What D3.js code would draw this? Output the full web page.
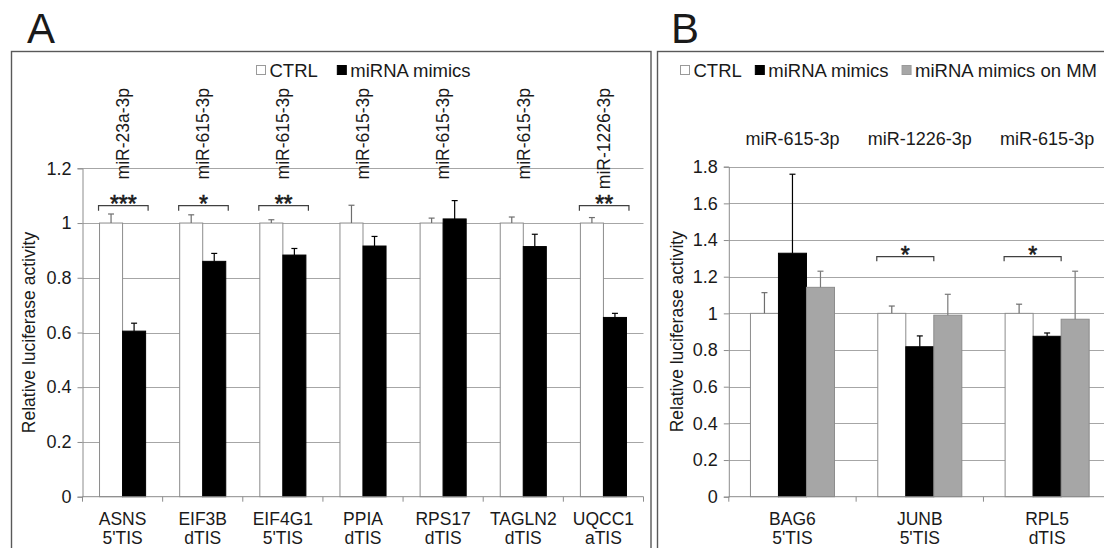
<!DOCTYPE html>
<html>
<head>
<meta charset="utf-8">
<script src="https://cdn.jsdelivr.net/npm/d3@7"></script>
<style>
  html, body { margin: 0; padding: 0; background: #fff; }
  svg { display: block; font-family: "Liberation Sans", Arial, sans-serif; }
</style>
</head>
<body>
<svg id="chart" width="1104" height="548"></svg>
<script>
// ---- Panel A: luciferase reporter, CTRL vs miRNA mimics ----
const genesA = ["ASNS", "EIF3B", "EIF4G1", "PPIA", "RPS17", "TAGLN2", "UQCC1"];
const sitesA = ["5'TIS", "dTIS", "5'TIS", "dTIS", "dTIS", "dTIS", "aTIS"];
const mirnaA = ["miR-23a-3p", "miR-615-3p", "miR-615-3p", "miR-615-3p", "miR-615-3p", "miR-615-3p", "miR-1226-3p"];
const ctrlA = [1, 1, 1, 1, 1, 1, 1];
const ctrlErrA = [0.033, 0.030, 0.012, 0.065, 0.018, 0.022, 0.020];
const mimicA = [0.605, 0.860, 0.883, 0.916, 1.015, 0.914, 0.655];
const mimicErrA = [0.029, 0.029, 0.024, 0.035, 0.067, 0.045, 0.015];
const sigA = ["***", "*", "**", "", "", "", "**"];
const ticksA = [0, 0.2, 0.4, 0.6, 0.8, 1, 1.2];

// ---- Panel B: CTRL, miRNA mimics, miRNA mimics on mutated site ----
const genesB = ["BAG6", "JUNB", "RPL5"];
const sitesB = ["5'TIS", "5'TIS", "dTIS"];
const mirnaB = ["miR-615-3p", "miR-1226-3p", "miR-615-3p"];
const ctrlB = [1, 1, 1];
const ctrlErrB = [0.113, 0.040, 0.050];
const mimicB = [1.328, 0.818, 0.875];
const mimicErrB = [0.431, 0.059, 0.018];
const mmB = [1.142, 0.990, 0.968];
const mmErrB = [0.088, 0.114, 0.262];
const sigB = ["", "*", "*"];
const ticksB = [0, 0.2, 0.4, 0.6, 0.8, 1, 1.2, 1.4, 1.6, 1.8];

const seriesStyle = {
  "CTRL": { fill: "#ffffff", stroke: "#8c8c8c", err: "#6e6e6e" },
  "miRNA mimics": { fill: "#000000", stroke: "#000000", err: "#000000" },
  "miRNA mimics on MM": { fill: "#a6a6a6", stroke: "#8c8c8c", err: "#7a7a7a" }
};

const svg = d3.select("#chart");
const FONT = 17.5;
const TICK_FONT = 18;
const LEGEND_FONT = 18.5;
const STAR_FONT = 23;
const fmt = d => (d === 0 ? "0" : d3.format(".1f")(d).replace(/\.0$/, ""));

function panel(opts) {
  const g = svg.append("g");
  // frame
  g.append("rect")
    .attr("x", opts.frame[0]).attr("y", opts.frame[1])
    .attr("width", opts.frame[2]).attr("height", opts.frame[3])
    .attr("fill", "none").attr("stroke", "#595959").attr("stroke-width", 1.4);
  // panel letter
  g.append("text").attr("x", opts.letterX).attr("y", 43)
    .attr("font-size", 42).attr("fill", "#1a1a1a").text(opts.letter);

  const y = d3.scaleLinear().domain([0, opts.yMax]).range([496.7, opts.yTop]);
  const x0 = d3.scaleBand().domain(opts.genes).range(opts.xRange)
    .paddingInner(opts.pad).paddingOuter(opts.pad / 2);
  const x1 = d3.scaleBand().domain(opts.series.map(s => s.name)).range([0, x0.bandwidth()]);

  // gridlines
  g.append("g").selectAll("line").data(opts.ticks.filter(t => t > 0)).join("line")
    .attr("x1", opts.xRange[0]).attr("x2", opts.gridEnd)
    .attr("y1", d => Math.round(y(d)) + 0.5).attr("y2", d => Math.round(y(d)) + 0.5)
    .attr("stroke", "#a6a6a6").attr("stroke-width", 1);

  // y axis
  const ya = g.append("g").attr("transform", `translate(${opts.xRange[0]},0)`)
    .call(d3.axisLeft(y).tickValues(opts.ticks).tickFormat(fmt).tickSize(5).tickPadding(6));
  ya.select(".domain").attr("stroke", "#8c8c8c");
  ya.selectAll(".tick line").attr("stroke", "#8c8c8c");
  ya.selectAll("text").attr("font-size", TICK_FONT).attr("fill", "#1a1a1a")
    .attr("font-family", "Liberation Sans, Arial, sans-serif");

  // axis title
  g.append("text")
    .attr("transform", `translate(${opts.titleX},${(y(0) + y(opts.yMax)) / 2}) rotate(-90)`)
    .attr("text-anchor", "middle").attr("font-size", FONT).attr("fill", "#1a1a1a")
    .text("Relative luciferase activity");

  // bars
  const groups = g.append("g").selectAll("g").data(opts.genes).join("g")
    .attr("transform", d => `translate(${x0(d)},0)`);
  opts.series.forEach(s => {
    const st = seriesStyle[s.name];
    groups.append("rect")
      .attr("x", x1(s.name)).attr("width", x1.bandwidth())
      .attr("y", (d, i) => y(s.values[i])).attr("height", (d, i) => y(0) - y(s.values[i]))
      .attr("fill", st.fill).attr("stroke", st.stroke).attr("stroke-width", 1);
    // upper error bars
    const cx = x1(s.name) + x1.bandwidth() / 2;
    groups.append("line")
      .attr("x1", cx).attr("x2", cx)
      .attr("y1", (d, i) => y(s.values[i])).attr("y2", (d, i) => y(s.values[i] + s.err[i]))
      .attr("stroke", st.err).attr("stroke-width", 1.2);
    groups.append("line")
      .attr("x1", cx - 3).attr("x2", cx + 3)
      .attr("y1", (d, i) => y(s.values[i] + s.err[i])).attr("y2", (d, i) => y(s.values[i] + s.err[i]))
      .attr("stroke", st.err).attr("stroke-width", 1.2);
  });

  // x axis
  const xa = g.append("g").attr("transform", `translate(0,${y(0)})`);
  xa.append("line").attr("x1", opts.xRange[0]).attr("x2", opts.xRange[1])
    .attr("stroke", "#8c8c8c");
  const step = x0.step();
  xa.selectAll(".sep").data(d3.range(opts.genes.length + 1)).join("line")
    .attr("x1", i => opts.xRange[0] + i * step).attr("x2", i => opts.xRange[0] + i * step)
    .attr("y1", 0).attr("y2", 5).attr("stroke", "#8c8c8c");
  opts.genes.forEach((gene, i) => {
    const cx = x0(gene) + x0.bandwidth() / 2;
    const t = xa.append("text").attr("text-anchor", "middle").attr("font-size", FONT)
      .attr("fill", "#1a1a1a");
    t.append("tspan").attr("x", cx).attr("y", 28).text(gene);
    t.append("tspan").attr("x", cx).attr("y", 47).text(opts.sites[i]);
  });

  // significance brackets
  opts.sig.forEach((s, i) => {
    if (!s) return;
    const gene = opts.genes[i];
    const left = x0(gene) - 1;
    const right = x0(gene) + 2 * x1.bandwidth() + opts.bracketRight;
    const by = opts.bracketY;
    g.append("path")
      .attr("d", `M${left},${by + opts.bracketTick}V${by}H${right}V${by + opts.bracketTick}`)
      .attr("fill", "none").attr("stroke", "#404040").attr("stroke-width", 1.2);
    g.append("text").attr("x", (left + right) / 2).attr("y", opts.starY)
      .attr("text-anchor", "middle").attr("font-size", STAR_FONT).attr("fill", "#1a1a1a")
      .attr("stroke", "#1a1a1a").attr("stroke-width", 0.6).text(s);
  });

  // miRNA labels above each group
  opts.mirna.forEach((m, i) => {
    const cx = x0(opts.genes[i]) + x0.bandwidth() / 2;
    if (opts.rotateLabels) {
      g.append("text")
        .attr("transform", `translate(${cx + 6.3},88) rotate(-90)`)
        .attr("text-anchor", "end").attr("font-size", FONT).attr("fill", "#1a1a1a").text(m);
    } else {
      g.append("text").attr("x", cx).attr("y", 145)
        .attr("text-anchor", "middle").attr("font-size", FONT + 0.5).attr("fill", "#1a1a1a").text(m);
    }
  });

  // legend
  let lx = opts.legendX;
  opts.series.forEach(s => {
    const st = seriesStyle[s.name];
    g.append("rect").attr("x", lx + 0.5).attr("y", 65.5).attr("width", 9).attr("height", 9)
      .attr("fill", st.fill).attr("stroke", st.stroke === "#000000" ? "#000" : "#9a9a9a");
    const t = g.append("text").attr("x", lx + 13.5).attr("y", 77)
      .attr("font-size", LEGEND_FONT).attr("fill", "#1a1a1a").text(s.name);
    lx += 13.5 + t.node().getComputedTextLength() + opts.legendGap;
  });
}

panel({
  letter: "A", letterX: 27, frame: [11.5, 51.5, 639.5, 600],
  genes: genesA, sites: sitesA, mirna: mirnaA, sig: sigA, ticks: ticksA,
  yMax: 1.2, yTop: 168.3, xRange: [82.5, 643.5], gridEnd: 643.5, pad: 0.425,
  titleX: 35, rotateLabels: true,
  bracketY: 205.7, bracketTick: 5, bracketRight: 2.5, starY: 212,
  legendX: 256, legendGap: 19,
  series: [
    { name: "CTRL", values: ctrlA, err: ctrlErrA },
    { name: "miRNA mimics", values: mimicA, err: mimicErrA }
  ]
});

panel({
  letter: "B", letterX: 671, frame: [657.5, 51.5, 500, 600],
  genes: genesB, sites: sitesB, mirna: mirnaB, sig: sigB, ticks: ticksB,
  yMax: 1.8, yTop: 166.7, xRange: [728.8, 1110.8], gridEnd: 1110, pad: 0.34,
  titleX: 683, rotateLabels: false,
  bracketY: 256.7, bracketTick: 4.5, bracketRight: 0, starY: 263,
  legendX: 680, legendGap: 13,
  series: [
    { name: "CTRL", values: ctrlB, err: ctrlErrB },
    { name: "miRNA mimics", values: mimicB, err: mimicErrB },
    { name: "miRNA mimics on MM", values: mmB, err: mmErrB }
  ]
});
</script>
</body>
</html>
